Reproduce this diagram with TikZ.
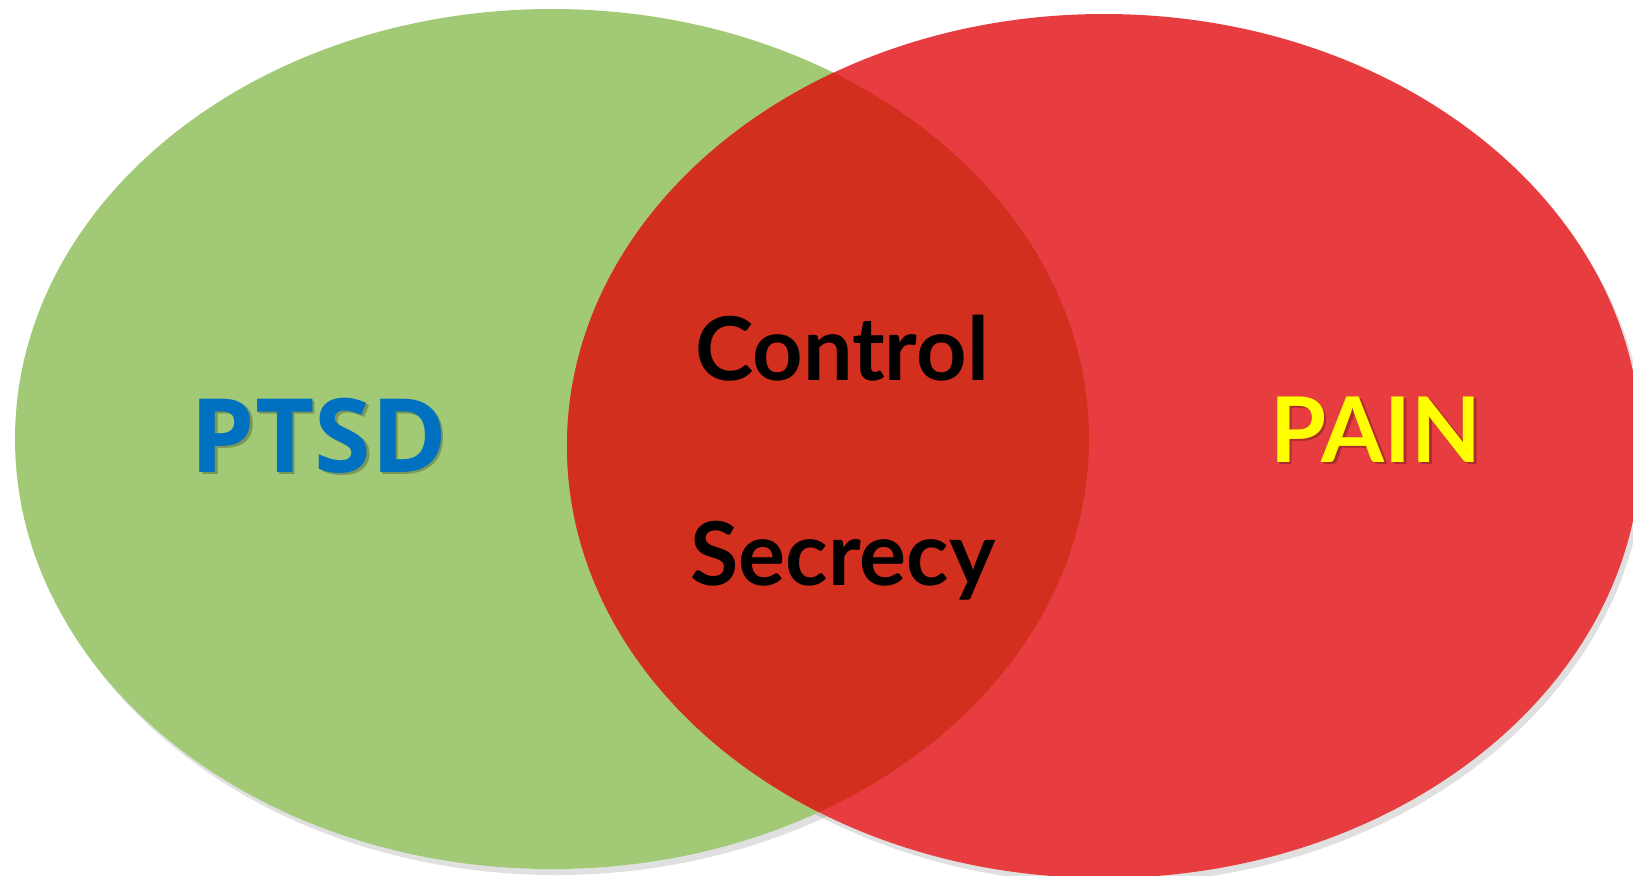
\documentclass[tikz,border=0pt]{standalone}
\usepackage{fontspec}
\newfontfamily\latofont{Lato}
\newfontfamily\opensansfont{Open Sans}
\definecolor{ptsdgreen}{RGB}{162,202,118}
\definecolor{painred}{RGB}{232,61,64}
\definecolor{lensred}{RGB}{210,47,30}
\definecolor{ptsdblue}{RGB}{0,112,192}
\definecolor{painyellow}{RGB}{255,255,0}

\begin{document}
\begin{tikzpicture}[x=0.75pt,y=0.75pt,yscale=-1,xscale=1,
  blob shadow/.style={fill=black,fill opacity=0.12},
  lobe label/.style={inner sep=0.75pt,anchor=base,font=\latofont\bfseries\fontsize{66}{78}\selectfont},
  big label/.style={inner sep=0.75pt,anchor=base}]
\useasboundingbox (0,0) rectangle (1633,875);

%Shape: Ellipse shadows
\fill [blob shadow] (556,445) ellipse [x radius=537, y radius=430];
\fill [blob shadow] (1108,452) ellipse [x radius=537, y radius=432];
%Shape: Ellipse [PTSD]
\fill [ptsdgreen] (552,439) ellipse [x radius=537, y radius=430];
%Shape: Ellipse [PAIN]
\fill [painred] (1104,446) ellipse [x radius=537, y radius=432];
%Shape: Lens [overlap]
\begin{scope}
\clip (552,439) ellipse [x radius=537, y radius=430];
\fill [lensred] (1104,446) ellipse [x radius=537, y radius=432];
\end{scope}

% Text Node
\node [big label,text=black,opacity=0.25,font=\opensansfont\bfseries\fontsize{77}{88}\selectfont] (ptsdshadow) at (321.5,474.5) {PTSD};
\node [big label,text=ptsdblue,font=\opensansfont\bfseries\fontsize{77}{88}\selectfont] (ptsd) at (319,472) {PTSD};
% Text Node
\node [big label,text=black,opacity=0.25,font=\latofont\bfseries\fontsize{68}{80}\selectfont] (painshadow) at (1378.5,464.5) {PAIN};
\node [big label,text=painyellow,font=\latofont\bfseries\fontsize{68}{80}\selectfont] (pain) at (1376,462) {PAIN};
% Text Node
\node [lobe label] (control) at (842,380) {Control};
% Text Node
\node [lobe label] (secrecy) at (843,585) {Secrecy};

\end{tikzpicture}
\end{document}
